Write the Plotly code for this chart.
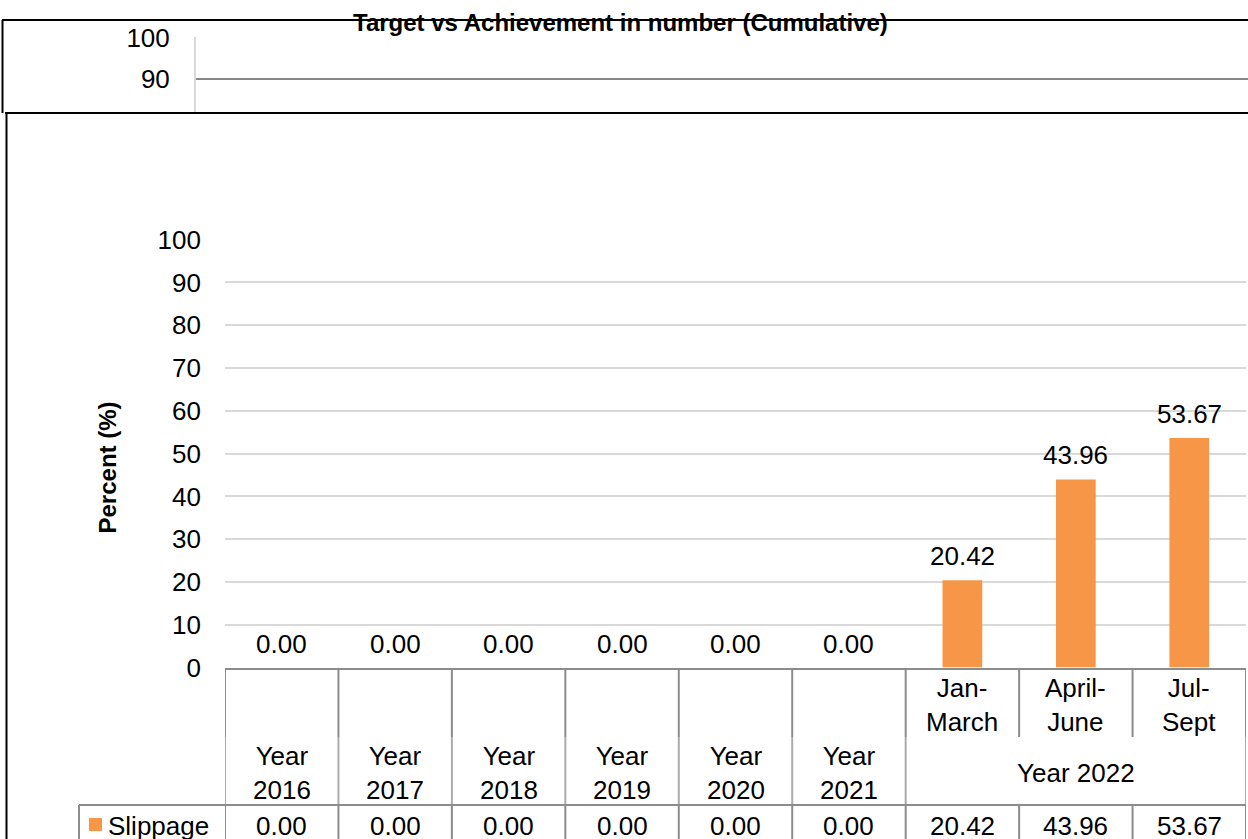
import plotly.graph_objects as go

# front chart: slippage by period, with an Excel style data table under it
periods = ["", "", "", "", "", "", "Jan-<br>March", "April-<br>June", "Jul-<br>Sept"]
years = ["Year<br>2016", "Year<br>2017", "Year<br>2018", "Year<br>2019", "Year<br>2020",
         "Year<br>2021", "Year 2022", "Year 2022", "Year 2022"]
slippage = [0.00, 0.00, 0.00, 0.00, 0.00, 0.00, 20.42, 43.96, 53.67]
series_name = "Slippage"
y_title = "Percent (%)"

# chart sitting behind, only its top strip shows
bg_title = "Target vs Achievement in number (Cumulative)"
bg_target = [90, 90]

W, H = 1248, 839
ORANGE = "#F79646"
FONT = "Liberation Sans, Arial, sans-serif"


def py(p):
    # pixel row -> paper y
    return (H - p) / H


def px(p):
    return p / W


idx = list(range(len(slippage)))
x_dom = [px(225), px(1246)]
y_dom = [py(667.6), py(239.6)]

fig = go.Figure()

fig.add_bar(x=idx, y=slippage, width=0.35, marker_color=ORANGE, marker_line_width=0,
            name=series_name, showlegend=False, hoverinfo="skip")

fig.add_scatter(x=[0, 1], y=bg_target, mode="lines", xaxis="x2", yaxis="y2",
                line=dict(color="#868686", width=2), showlegend=False, hoverinfo="skip")

shapes = []
line_dark = dict(color="#8c8c8c", width=2)
line_light = dict(color="#ababab", width=2)

# background chart frame
shapes.append(dict(type="line", xref="paper", yref="paper", x0=px(2), x1=1,
                   y0=py(20), y1=py(20), line=dict(color="black", width=2)))
shapes.append(dict(type="line", xref="paper", yref="paper", x0=px(2.5), x1=px(2.5),
                   y0=py(20), y1=py(113), line=dict(color="black", width=2)))
# front chart frame
shapes.append(dict(type="line", xref="paper", yref="paper", x0=px(5), x1=1,
                   y0=py(113), y1=py(113), line=dict(color="black", width=2)))
shapes.append(dict(type="line", xref="paper", yref="paper", x0=px(6.5), x1=px(6.5),
                   y0=py(113), y1=0, line=dict(color="black", width=2)))

# data table grid
for b in range(len(idx) + 1):
    xb = b - 0.5
    inner = 0 < b < len(idx) and years[b - 1] == years[b]
    shapes.append(dict(type="line", xref="x", yref="paper", x0=xb, x1=xb,
                       y0=py(668), y1=py(737), line=line_dark))
    if not inner:
        shapes.append(dict(type="line", xref="x", yref="paper", x0=xb, x1=xb,
                           y0=py(737), y1=py(805), line=line_light))
    shapes.append(dict(type="line", xref="x", yref="paper", x0=xb, x1=xb,
                       y0=py(805), y1=0, line=line_dark))
shapes.append(dict(type="line", xref="paper", yref="paper", x0=px(79), x1=x_dom[1],
                   y0=py(805), y1=py(805), line=line_dark))
shapes.append(dict(type="line", xref="paper", yref="paper", x0=px(79), x1=px(79),
                   y0=py(805), y1=0, line=line_dark))
# legend key
shapes.append(dict(type="rect", xref="paper", yref="paper", x0=px(89), x1=px(102),
                   y0=py(831), y1=py(818), fillcolor=ORANGE, line_width=0))

ann = []
tf = dict(family=FONT, size=26, color="black")


def note(**kw):
    kw.setdefault("showarrow", False)
    kw.setdefault("xanchor", "center")
    kw.setdefault("yanchor", "middle")
    kw.setdefault("font", tf)
    ann.append(kw)


# value labels over bars
for i, v in zip(idx, slippage):
    note(x=i, y=v, xref="x", yref="y", text=f"{v:.2f}", yanchor="bottom", yshift=7)

# table rows
for i, p in zip(idx, periods):
    if p:
        note(x=i, y=py(705), xref="x", yref="paper", text=p)
groups = []
for i, y in zip(idx, years):
    if groups and groups[-1][0] == y:
        groups[-1][2] = i
    else:
        groups.append([y, i, i])
for label, a, b in groups:
    note(x=(a + b) / 2, y=py(773), xref="x", yref="paper", text=label)
for i, v in zip(idx, slippage):
    note(x=i, y=py(826), xref="x", yref="paper", text=f"{v:.2f}")
note(x=px(106), y=py(826), xref="paper", yref="paper", text=series_name, xanchor="left")

note(x=px(106.5), y=py(468), xref="paper", yref="paper", text=y_title, textangle=-90,
     font=dict(family=FONT, size=24, color="black", weight="bold"))
note(x=px(620), y=py(23), xref="paper", yref="paper", text=bg_title,
     font=dict(family=FONT, size=24, color="black", weight="bold"))

fig.update_layout(
    width=W, height=H, margin=dict(l=0, r=0, t=0, b=0, autoexpand=False),
    paper_bgcolor="white", plot_bgcolor="white", showlegend=False,
    font=dict(family=FONT, size=26, color="black"),
    xaxis=dict(domain=x_dom, range=[-0.5, len(idx) - 0.5], showticklabels=False,
               showgrid=False, zeroline=False, showline=True, linecolor="#8c8c8c",
               linewidth=2, automargin=False),
    yaxis=dict(domain=y_dom, range=[0, 100], dtick=10, showgrid=True,
               gridcolor="#d9d9d9", gridwidth=1.5, zeroline=False, ticks="",
               ticklabelstandoff=23, tickfont=tf, automargin=False),
    xaxis2=dict(domain=[px(196), 1], anchor="y2", range=[0, 1], visible=False,
                automargin=False),
    yaxis2=dict(domain=[py(113), py(37)], anchor="x2", range=[100 - 75 / 4.1, 100 + 1 / 4.1],
                dtick=10, showgrid=True, gridcolor="#d9d9d9", gridwidth=1.5,
                zeroline=False, ticks="", showline=True, linecolor="#d9d9d9",
                linewidth=2, ticklabelstandoff=19, tickfont=tf, automargin=False),
    shapes=shapes, annotations=ann,
)

# pin the plot to the window corner so the page is exactly the figure
pin = ("document.documentElement.style.overflow='hidden';"
       "document.body.style.margin='0';"
       "var gd=document.getElementById('{plot_id}');"
       "gd.style.position='fixed';gd.style.left='0';gd.style.top='0';")
fig.write_html("out.html", post_script=pin, config={"displayModeBar": False})
